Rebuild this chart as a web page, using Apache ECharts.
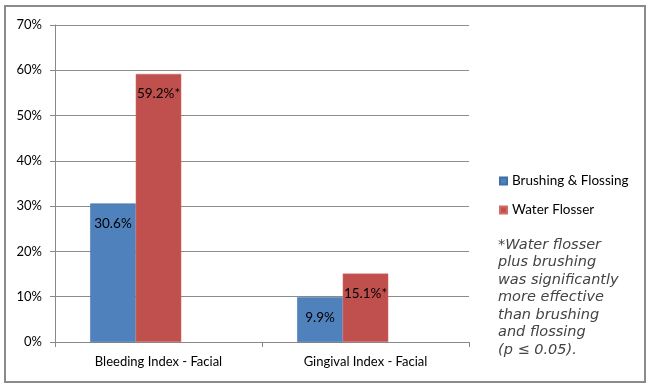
<!DOCTYPE html>
<html>
<head>
<meta charset="utf-8">
<script src="https://cdn.jsdelivr.net/npm/echarts@6/dist/echarts.min.js"></script>
<style>html,body{margin:0;padding:0;background:#fff}#c{width:650px;height:385px}</style>
</head>
<body>
<div id="c"></div>
<script>
var categories = ['Bleeding Index - Facial', 'Gingival Index - Facial'];
var brushingFlossing = [30.6, 9.9];
var waterFlosser = [59.2, 15.1];
var waterLabels = ['59.2%*', '15.1%*'];
var brushLabels = ['30.6%', '9.9%'];
var seriesNames = ['Brushing & Flossing', 'Water Flosser'];
var yTicks = [0, 10, 20, 30, 40, 50, 60, 70];
var noteLines = ['*Water flosser', 'plus brushing', 'was significantly', 'more effective', 'than brushing', 'and flossing', '(p \u2264 0.05).'];

var chart = echarts.init(document.getElementById('c'));
var font = 'Lato, "Open Sans", sans-serif';
var option = {
  animation: false,
  backgroundColor: '#fff',
  grid: { left: 55, right: 181, top: 25, bottom: 43 },
  legend: {
    data: seriesNames,
    orient: 'vertical',
    left: 494, top: 169,
    itemWidth: 7, itemHeight: 7, itemGap: 15,
    icon: 'rect',
    textStyle: { fontFamily: font, fontSize: 13.5, color: '#000' }
  },
  xAxis: {
    type: 'category',
    data: categories,
    axisLine: { lineStyle: { color: '#888', width: 1 } },
    axisTick: { show: true, length: 5, lineStyle: { color: '#888' } },
    axisLabel: { fontFamily: font, fontSize: 13, color: '#000', margin: 13 }
  },
  yAxis: {
    type: 'value',
    min: 0, max: 70, interval: 10,
    axisLine: { show: true, lineStyle: { color: '#888', width: 1 } },
    axisTick: { show: true, length: 5, lineStyle: { color: '#888' } },
    splitLine: { lineStyle: { color: '#8c8c8c', width: 1 } },
    axisLabel: { fontFamily: font, fontSize: 13, color: '#000', margin: 13,
      formatter: function (v) { return yTicks.indexOf(v) >= 0 ? v + '%' : ''; } }
  },
  series: [
    {
      name: seriesNames[0], type: 'bar', data: brushingFlossing,
      barWidth: '22%', barGap: '0%',
      itemStyle: { color: '#4F81BD', borderColor: '#3f6fa8', borderWidth: 0.5 },
      label: { show: true, position: 'insideTop', distance: 13, fontFamily: font, fontSize: 13.5, color: '#000',
        formatter: function (p) { return brushLabels[p.dataIndex]; } }
    },
    {
      name: seriesNames[1], type: 'bar', data: waterFlosser,
      barWidth: '22%', barGap: '0%',
      itemStyle: { color: '#C0504D', borderColor: '#d46a66', borderWidth: 0.5 },
      label: { show: true, position: 'insideTop', distance: 13, fontFamily: font, fontSize: 13.5, color: '#000',
        formatter: function (p) { return waterLabels[p.dataIndex]; } }
    },
    {
      name: 'spacer', type: 'bar', data: [null, null],
      barWidth: '22%', barGap: '0%'
    }
  ],
  graphic: [
    { type: 'rect', shape: { x: 5, y: 6, width: 640, height: 376 }, style: { fill: 'none', stroke: '#8a8a8a', lineWidth: 2 }, z: 100 },
    { type: 'text', left: 498, top: 236,
      style: { text: noteLines.join('\n'), fontFamily: '"DejaVu Sans", sans-serif', fontStyle: 'italic',
        fontSize: 14.5, lineHeight: 17.5, fill: '#444' } }
  ]
};
chart.setOption(option);
</script>
</body>
</html>
